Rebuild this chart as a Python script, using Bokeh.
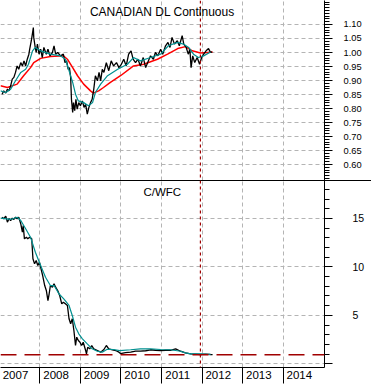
from bokeh.plotting import figure
from bokeh.layouts import column
from bokeh.models import (Range1d, FixedTicker, Span, Label,
                          PrintfTickFormatter, CustomJSTickFormatter)
from bokeh.embed import file_html
from bokeh.resources import INLINE

# ---------------- data (decimal years) ----------------
years = [2007, 2008, 2009, 2010, 2011, 2012, 2013, 2014]

# CANADIAN DL Continuous: price and its two moving averages
cad_dates = [2007.07, 2007.11, 2007.16, 2007.20, 2007.24, 2007.28, 2007.32, 2007.36, 2007.40, 2007.44,
             2007.48, 2007.53, 2007.57, 2007.61, 2007.65, 2007.69, 2007.73, 2007.75, 2007.79, 2007.81,
             2007.84, 2007.85, 2007.88, 2007.91, 2007.94, 2007.98, 2008.02, 2008.06, 2008.10, 2008.16,
             2008.20, 2008.25, 2008.31, 2008.35, 2008.39, 2008.44, 2008.51, 2008.58, 2008.62, 2008.66,
             2008.70, 2008.73, 2008.76, 2008.78, 2008.81, 2008.83, 2008.86, 2008.89, 2008.92, 2008.96,
             2009.00, 2009.05, 2009.09, 2009.13, 2009.17, 2009.21, 2009.25, 2009.29, 2009.33, 2009.37,
             2009.42, 2009.46, 2009.50, 2009.54, 2009.58, 2009.64, 2009.70, 2009.76, 2009.82, 2009.89,
             2009.95, 2010.01, 2010.07, 2010.13, 2010.19, 2010.25, 2010.30, 2010.36, 2010.42, 2010.48,
             2010.55, 2010.61, 2010.66, 2010.73, 2010.80, 2010.85, 2010.91, 2010.98, 2011.03, 2011.10,
             2011.16, 2011.21, 2011.26, 2011.32, 2011.39, 2011.44, 2011.51, 2011.55, 2011.61, 2011.66,
             2011.70, 2011.73, 2011.77, 2011.82, 2011.88, 2011.94, 2011.99, 2012.04, 2012.10, 2012.16,
             2012.21, 2012.25]
cad_close = [0.851, 0.863, 0.855, 0.869, 0.863, 0.881, 0.905, 0.911, 0.929, 0.952,
             0.940, 0.964, 0.952, 0.970, 0.952, 0.976, 0.994, 1.012, 1.042, 1.060,
             1.089, 1.054, 1.024, 1.000, 1.030, 0.994, 1.012, 0.982, 1.018, 0.994,
             1.012, 0.988, 1.000, 1.024, 0.994, 1.000, 0.988, 0.994, 0.964, 0.970,
             0.940, 0.946, 0.911, 0.833, 0.786, 0.821, 0.792, 0.833, 0.798, 0.821,
             0.810, 0.827, 0.804, 0.815, 0.780, 0.804, 0.821, 0.833, 0.869, 0.917,
             0.899, 0.929, 0.899, 0.940, 0.929, 0.964, 0.935, 0.970, 0.952, 0.964,
             0.946, 0.958, 0.976, 0.952, 0.994, 1.006, 0.976, 0.964, 0.976, 0.952,
             0.982, 0.946, 0.964, 0.988, 0.976, 1.000, 0.988, 1.012, 0.994, 1.024,
             1.036, 1.018, 1.054, 1.030, 1.042, 1.024, 1.060, 1.030, 1.018, 0.994,
             1.012, 0.946, 0.988, 0.964, 0.982, 0.958, 0.982, 0.994, 1.006, 1.014,
             1.000, 1.002]

cad_fast_dates = [2007.03, 2007.16, 2007.28, 2007.40, 2007.53, 2007.65, 2007.72, 2007.82, 2007.89, 2008.02,
                  2008.26, 2008.51, 2008.63, 2008.71, 2008.81, 2008.88, 2008.95, 2009.08, 2009.20, 2009.30,
                  2009.37, 2009.50, 2009.67, 2009.92, 2010.16, 2010.31, 2010.48, 2010.73, 2010.98, 2011.17,
                  2011.40, 2011.54, 2011.67, 2011.79, 2011.91, 2012.04, 2012.21]
cad_fast_ma = [0.863, 0.857, 0.869, 0.899, 0.929, 0.940, 0.958, 1.006, 1.018, 1.006,
               0.994, 0.988, 0.976, 0.940, 0.893, 0.851, 0.827, 0.821, 0.810, 0.821,
               0.857, 0.887, 0.917, 0.940, 0.958, 0.982, 0.970, 0.982, 0.994, 1.024,
               1.036, 1.030, 1.018, 0.994, 0.982, 0.988, 1.002]

cad_slow_dates = [2007.03, 2007.20, 2007.44, 2007.60, 2007.77, 2007.85, 2008.02, 2008.26, 2008.58, 2008.68,
                  2008.81, 2008.93, 2009.08, 2009.25, 2009.32, 2009.45, 2009.57, 2009.74, 2009.99, 2010.31,
                  2010.56, 2010.90, 2011.15, 2011.40, 2011.59, 2011.76, 2011.96, 2012.13, 2012.26]
cad_slow_ma = [0.881, 0.875, 0.887, 0.917, 0.946, 0.964, 0.979, 0.986, 0.988, 0.976,
               0.946, 0.917, 0.887, 0.863, 0.855, 0.863, 0.875, 0.893, 0.917, 0.952,
               0.958, 0.976, 0.994, 1.014, 1.021, 1.006, 0.998, 1.000, 1.002]

# C/WFC: price and its moving average
wfc_dates = [2007.07, 2007.11, 2007.16, 2007.20, 2007.24, 2007.28, 2007.32, 2007.36, 2007.40, 2007.44,
             2007.48, 2007.53, 2007.57, 2007.59, 2007.62, 2007.67, 2007.70, 2007.75, 2007.80, 2007.83,
             2007.87, 2007.91, 2007.95, 2007.99, 2008.04, 2008.07, 2008.12, 2008.16, 2008.20, 2008.23,
             2008.26, 2008.31, 2008.35, 2008.39, 2008.44, 2008.49, 2008.54, 2008.58, 2008.63, 2008.68,
             2008.72, 2008.76, 2008.80, 2008.84, 2008.88, 2008.91, 2008.95, 2008.99, 2009.03, 2009.07,
             2009.13, 2009.15, 2009.18, 2009.23, 2009.28, 2009.33, 2009.42, 2009.50, 2009.58, 2009.64,
             2009.70, 2009.79, 2009.87, 2009.95, 2009.99, 2010.11, 2010.24, 2010.36, 2010.48, 2010.61,
             2010.73, 2010.85, 2010.98, 2011.10, 2011.22, 2011.35, 2011.47, 2011.59, 2011.72, 2011.84,
             2011.96, 2012.09, 2012.21, 2012.26]
wfc_close = [15.13, 14.97, 15.24, 14.62, 14.97, 14.79, 15.03, 14.90, 15.13, 14.97,
             15.13, 14.45, 13.59, 14.28, 12.90, 13.07, 12.90, 13.07, 12.90, 10.84,
             10.32, 10.66, 10.15, 10.49, 9.63, 9.11, 8.08, 7.57, 6.53, 7.23,
             8.08, 7.91, 8.26, 7.91, 7.57, 7.05, 6.19, 6.36, 6.19, 6.02,
             4.65, 4.13, 4.65, 3.44, 1.89, 2.75, 2.41, 2.23, 1.89, 2.23,
             1.37, 1.03, 1.71, 1.55, 1.89, 1.55, 1.37, 1.20, 1.48, 1.89,
             1.55, 1.44, 1.37, 1.20, 1.06, 1.15, 1.20, 1.30, 1.30, 1.35,
             1.45, 1.40, 1.37, 1.40, 1.40, 1.55, 1.30, 1.13, 1.03, 1.00,
             0.96, 1.00, 0.96, 0.95]

wfc_ma_dates = [2007.03, 2007.28, 2007.44, 2007.53, 2007.65, 2007.77, 2007.89, 2008.02, 2008.14, 2008.26,
                2008.35, 2008.47, 2008.59, 2008.72, 2008.80, 2008.88, 2008.96, 2009.05, 2009.17, 2009.29,
                2009.42, 2009.54, 2009.66, 2009.82, 2009.97, 2010.24, 2010.48, 2010.73, 2010.98, 2011.22,
                2011.47, 2011.59, 2011.72, 2011.96, 2012.21]
wfc_ma = [15.03, 14.90, 15.13, 14.79, 13.94, 13.07, 11.52, 10.15, 8.94, 8.08,
          8.08, 7.23, 6.71, 6.02, 4.99, 3.78, 3.10, 2.58, 2.06, 1.55,
          1.30, 1.20, 1.50, 1.48, 1.37, 1.45, 1.55, 1.55, 1.48, 1.45,
          1.30, 1.13, 1.03, 1.03, 0.96]

marker_date = 2011.96
wfc_ref_level = 0.93

cad_ticks = [0.60, 0.65, 0.70, 0.75, 0.80, 0.85, 0.90, 0.95, 1.00, 1.05, 1.10]
wfc_ticks = [0, 5, 10, 15]

# ---------------- styling ----------------
FONT = "Liberation Sans"
GRID = "#b4b4b4"
DARK_RED = "#a00000"
TEAL = "#009090"

x_range = Range1d(2007.03, 2015.02)
year_bounds = [float(y) for y in years[1:]]


def base(fig):
    fig.outline_line_color = None
    fig.background_fill_color = None
    fig.border_fill_color = None
    fig.xgrid.ticker = FixedTicker(ticks=year_bounds)
    for g in (fig.xgrid, fig.ygrid):
        g.grid_line_color = GRID
        g.grid_line_dash = "4 3"
        g.grid_line_width = 1
    fig.add_layout(Span(location=marker_date, dimension="height", line_color=DARK_RED,
                        line_dash="3 3", line_width=1.2))


def right_axis(ax, size, standoff):
    ax.major_tick_out = 8
    ax.major_tick_in = 0
    ax.minor_tick_out = 5
    ax.minor_tick_in = 0
    ax.major_label_standoff = standoff
    ax.major_label_text_font = FONT
    ax.major_label_text_font_size = size
    ax.major_label_text_color = "black"
    ax.axis_line_color = "black"
    ax.major_tick_line_color = "black"
    ax.minor_tick_line_color = "black"


# ---------------- top panel ----------------
top = figure(width=371, height=180, x_range=x_range, y_range=Range1d(0.5429, 1.1857),
             output_backend="svg", toolbar_location=None, x_axis_location=None,
             y_axis_location="right", min_border_left=0, min_border_right=47,
             min_border_top=0, min_border_bottom=0)
base(top)
ya = top.yaxis[0]
ya.ticker = FixedTicker(ticks=cad_ticks, minor_ticks=[round(0.54 + 0.01 * i, 2) for i in range(66)])
top.ygrid.ticker = FixedTicker(ticks=cad_ticks)
ya.formatter = PrintfTickFormatter(format="%.2f")
right_axis(ya, "9.3px", 11)

top.line(cad_slow_dates, cad_slow_ma, line_color="#ff0000", line_width=1.5)
top.line(cad_dates, cad_close, line_color="black", line_width=1.3)
top.line(cad_fast_dates, cad_fast_ma, line_color=TEAL, line_width=1.2)
top.add_layout(Label(x=2011.02, y=168.5, y_units="screen", text="CANADIAN DL Continuous",
                     text_align="center", text_baseline="middle", text_font=FONT,
                     text_font_size="12px", text_color="black"))

# ---------------- bottom panel ----------------
bot = figure(width=371, height=204, x_range=x_range, y_range=Range1d(-0.38, 18.92),
             output_backend="svg", toolbar_location=None, x_axis_location="below",
             y_axis_location="right", min_border_left=0, min_border_right=47,
             min_border_top=0, min_border_bottom=17,
             styles={"box-shadow": "inset 0 1px 0 0 black"})
base(bot)
yb = bot.yaxis[0]
yb.ticker = FixedTicker(ticks=wfc_ticks, minor_ticks=list(range(0, 19)))
bot.ygrid.ticker = FixedTicker(ticks=wfc_ticks)
yb.major_label_overrides = {0: ""}
right_axis(yb, "10.5px", 20)

xb = bot.xaxis[0]
xb.ticker = FixedTicker(ticks=[y + 0.40 for y in years], minor_ticks=[float(y) for y in years])
xb.formatter = CustomJSTickFormatter(code="return String(Math.floor(tick));")
xb.major_tick_out = 0
xb.major_tick_in = 0
xb.minor_tick_out = 16
xb.minor_tick_in = 0
xb.minor_tick_line_color = "black"
xb.major_label_standoff = -13
xb.major_label_text_font = FONT
xb.major_label_text_font_size = "11.5px"
xb.major_label_text_color = "black"
xb.axis_line_color = "black"

bot.add_layout(Span(location=wfc_ref_level, dimension="width", line_color=DARK_RED,
                    line_dash="16 8", line_width=1.5))
bot.line(wfc_dates, wfc_close, line_color="black", line_width=1.3)
bot.line(wfc_ma_dates, wfc_ma, line_color=TEAL, line_width=1.2)
bot.add_layout(Label(x=2011.02, y=176, y_units="screen", text="C/WFC",
                     text_align="center", text_baseline="middle", text_font=FONT,
                     text_font_size="11.5px", text_color="black"))

layout = column(top, bot, spacing=0)
open("out.html", "w").write(file_html(layout, INLINE))
